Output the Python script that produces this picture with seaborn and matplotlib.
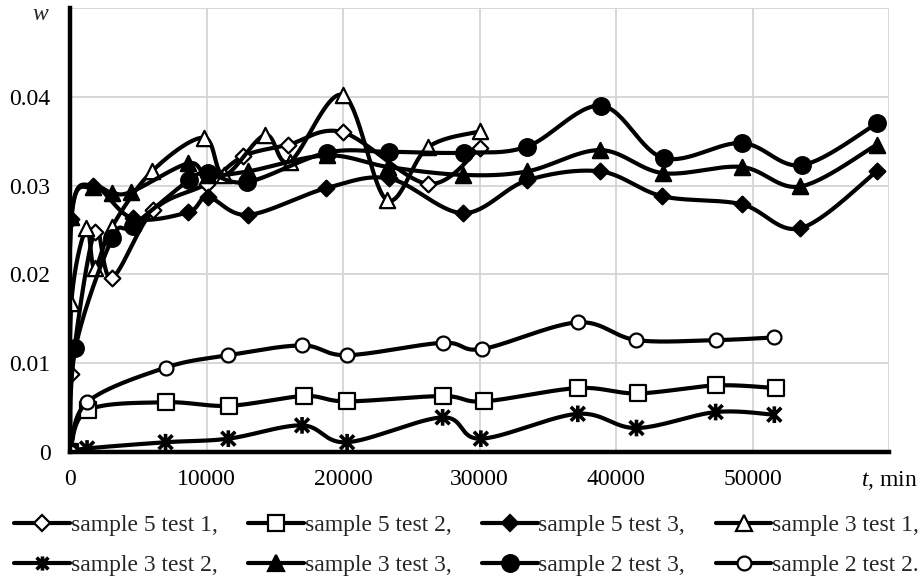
import numpy as np
import pandas as pd
import matplotlib
matplotlib.use("Agg")
import matplotlib.pyplot as plt
from matplotlib.path import Path
from matplotlib.lines import Line2D
import seaborn as sns

# ---- measured data: time t (min) and moisture content w ----
s5t1_t = [0, 100, 1800, 3050, 6100, 10000, 12700, 16000, 20000, 26200, 30000]
s5t1_w = [0, 0.0088, 0.0248, 0.0196, 0.0272, 0.0302, 0.0333, 0.0346, 0.0360, 0.0302, 0.0342]

s5t2_t = [0, 1300, 7000, 11650, 17150, 20300, 27300, 30300, 37200, 41600, 47350, 51700]
s5t2_w = [0, 0.0047, 0.0056, 0.0052, 0.0063, 0.0057, 0.0063, 0.0057, 0.0072, 0.0066, 0.0075, 0.0072]

s5t3_t = [0, 100, 1700, 4600, 8650, 10100, 13050, 18750, 23400, 28800, 33500, 38850, 43400, 49200, 53500, 59100]
s5t3_w = [0, 0.0262, 0.0300, 0.0263, 0.0270, 0.0287, 0.0267, 0.0297, 0.0308, 0.0269, 0.0306, 0.0316, 0.0288, 0.0279, 0.0252, 0.0316]

s3t1_t = [0, 100, 1200, 1800, 3050, 6000, 9800, 11300, 14300, 16100, 20000, 23200, 26200, 30000]
s3t1_w = [0, 0.0168, 0.0252, 0.0207, 0.0253, 0.0316, 0.0354, 0.0312, 0.0357, 0.0327, 0.0402, 0.0284, 0.0343, 0.0361]

s3t2_t = [0, 1250, 7000, 11600, 17000, 20300, 27300, 30100, 37200, 41500, 47300, 51600]
s3t2_w = [0, 0.0004, 0.0011, 0.0015, 0.0030, 0.0011, 0.0039, 0.0015, 0.0043, 0.0027, 0.0045, 0.0042]

s3t3_t = [0, 100, 1700, 3050, 4500, 8650, 10100, 13050, 18800, 23300, 28800, 33500, 38850, 43450, 49200, 53500, 59100]
s3t3_w = [0, 0.0265, 0.0298, 0.0292, 0.0293, 0.0325, 0.0312, 0.0316, 0.0334, 0.0321, 0.0312, 0.0316, 0.0340, 0.0314, 0.0321, 0.0299, 0.0346]

s2t3_t = [0, 400, 3100, 4600, 8700, 10100, 13000, 18800, 23400, 28900, 33500, 38900, 43500, 49200, 53600, 59100]
s2t3_w = [0, 0.0117, 0.0241, 0.0255, 0.0306, 0.0314, 0.0304, 0.0337, 0.0338, 0.0337, 0.0344, 0.0390, 0.0331, 0.0348, 0.0323, 0.0370]

s2t2_t = [0, 1250, 7000, 11600, 17000, 20300, 27300, 30200, 37200, 41500, 47300, 51600]
s2t2_w = [0, 0.0056, 0.0095, 0.0109, 0.0120, 0.0109, 0.0123, 0.0116, 0.0146, 0.0126, 0.0126, 0.0129]

labels = ["sample 5 test 1,", "sample 5 test 2,", "sample 5 test 3,", "sample 3 test 1,",
          "sample 3 test 2,", "sample 3 test 3,", "sample 2 test 3,", "sample 2 test 2."]

x_ticks = [0, 10000, 20000, 30000, 40000, 50000, 60000]
x_ticklabels = ["0", "10000", "20000", "30000", "40000", "50000", r"$\mathit{t}$, min"]
y_ticks = [0, 0.01, 0.02, 0.03, 0.04, 0.05]
y_ticklabels = ["0", "0.01", "0.02", "0.03", "0.04", ""]
y_title = r"$\mathit{w}$"

# asterisk marker: a cross with a vertical stroke
star_path = Path([(-1, -1), (1, 1), (-1, 1), (1, -1), (0, -1.2), (0, 1.2)],
                 [Path.MOVETO, Path.LINETO, Path.MOVETO, Path.LINETO, Path.MOVETO, Path.LINETO])

# (marker, face colour, marker size in points)
styles = [
    ("D", "white", 8),
    ("s", "white", 12),
    ("D", "black", 8),
    ("^", "white", 11),
    (star_path, "none", 12),
    ("^", "black", 11),
    ("o", "black", 12),
    ("o", "white", 10),
]

series = [(s5t1_t, s5t1_w), (s5t2_t, s5t2_w), (s5t3_t, s5t3_w), (s3t1_t, s3t1_w),
          (s3t2_t, s3t2_w), (s3t3_t, s3t3_w), (s2t3_t, s2t3_w), (s2t2_t, s2t2_w)]


def smooth(xs, ys, n=30):
    """Bezier smoothing through the points (Catmull-Rom style control points)."""
    p = np.column_stack([xs, ys]).astype(float)
    out = []
    for i in range(len(p) - 1):
        p0 = p[i - 1] if i > 0 else p[i]
        p1, p2 = p[i], p[i + 1]
        p3 = p[i + 2] if i + 2 < len(p) else p[i + 1]
        c1 = p1 + (p2 - p0) / 6.0
        c2 = p2 - (p3 - p1) / 6.0
        s = np.linspace(0, 1, n, endpoint=(i == len(p) - 2))[:, None]
        seg = ((1 - s) ** 3) * p1 + 3 * ((1 - s) ** 2) * s * c1 + 3 * (1 - s) * s ** 2 * c2 + s ** 3 * p2
        out.append(seg)
    return np.vstack(out)


sns.set_theme(style="white")
plt.rcParams["font.family"] = ["Liberation Serif", "DejaVu Serif"]
plt.rcParams["mathtext.fontset"] = "custom"
plt.rcParams["mathtext.it"] = "Liberation Serif:italic"
plt.rcParams["mathtext.rm"] = "Liberation Serif"

fig = plt.figure(figsize=(9.23, 5.83), dpi=100)
ax = fig.add_axes([70 / 923, 1 - 452 / 583, (889 - 70) / 923, (452 - 8) / 583])

LW = 3.0
STAR_EW = 2.6
for k, ((t, w), (mk, fc, ms)) in enumerate(zip(series, styles)):
    curve = smooth(t, w)
    cdf = pd.DataFrame({"t": curve[:, 0], "w": curve[:, 1]})
    sns.lineplot(data=cdf, x="t", y="w", sort=False, estimator=None, color="black",
                 linewidth=LW, ax=ax, zorder=3 + 2 * k)
    pdf = pd.DataFrame({"t": t, "w": w})
    if mk is star_path:
        sns.scatterplot(data=pdf, x="t", y="w", marker=mk, s=ms ** 2, facecolor="none",
                        edgecolor="black", linewidth=STAR_EW, ax=ax, zorder=4 + 2 * k)
    else:
        sns.scatterplot(data=pdf, x="t", y="w", marker=mk, s=ms ** 2, color=fc,
                        edgecolor="black", linewidth=1.6, ax=ax, zorder=4 + 2 * k)

ax.set_xlim(0, 60000)
ax.set_ylim(0, 0.05)
ax.set_xticks(x_ticks)
ax.set_xticklabels(x_ticklabels)
ax.set_yticks(y_ticks)
ax.set_yticklabels(y_ticklabels)
ax.set_xlabel("")
ax.set_ylabel("")
ax.tick_params(axis="both", length=0, labelsize=17, colors="black")
ax.tick_params(axis="y", pad=14)
ax.tick_params(axis="x", pad=12)
ax.grid(True, color="#d4d4d4", linewidth=1.3)
ax.set_axisbelow(True)
for side in ("top", "right"):
    ax.spines[side].set_visible(False)
for side in ("left", "bottom"):
    ax.spines[side].set_color("black")
    ax.spines[side].set_linewidth(3.2)
    ax.spines[side].set_zorder(30)

# axis title for w, just under the top gridline
ax.annotate(y_title, xy=(0, 0.05), xycoords="data", xytext=(-20, -6),
            textcoords="offset pixels", ha="right", va="center", fontsize=17)

# legend: four entries per row, two rows
handles = []
for mk, fc, ms in styles:
    if mk is star_path:
        handles.append(Line2D([], [], color="black", linewidth=LW, marker=mk, markersize=ms * 0.85,
                              markerfacecolor="none", markeredgecolor="black", markeredgewidth=STAR_EW))
    else:
        handles.append(Line2D([], [], color="black", linewidth=LW, marker=mk, markersize=ms,
                              markerfacecolor=fc, markeredgecolor="black", markeredgewidth=1.6))
order = [0, 4, 1, 5, 2, 6, 3, 7]
fig.legend([handles[i] for i in order], [labels[i] for i in order], ncol=4,
           loc="lower left", bbox_to_anchor=(0.0, -0.013), frameon=False, fontsize=17,
           handlelength=2.35, handletextpad=0.04, columnspacing=1.3, labelspacing=0.8,
           borderaxespad=0.2)

fig.savefig("out.png", dpi=100)
